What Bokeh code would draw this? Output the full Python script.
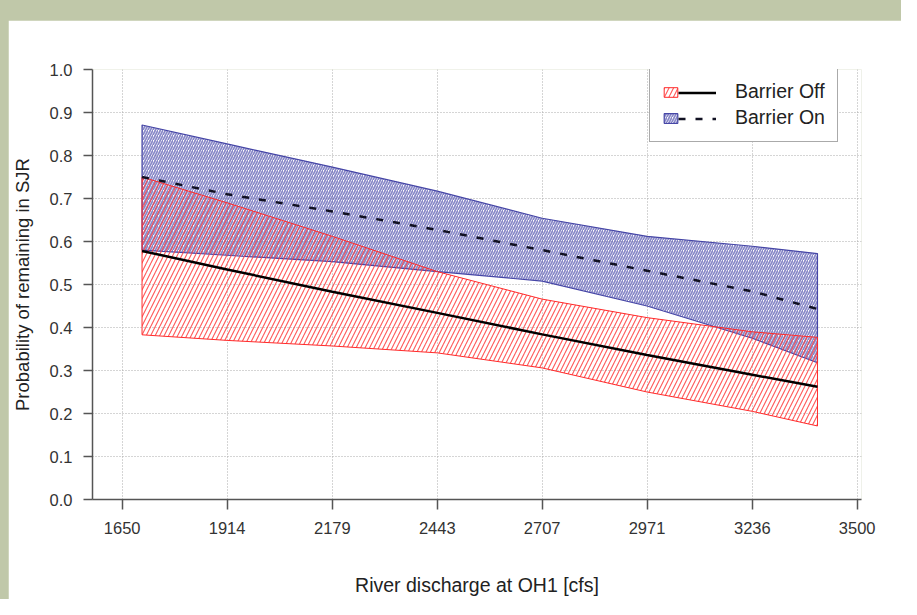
from bokeh.plotting import figure
from bokeh.models import Range1d, FixedTicker, Legend, LegendItem, Spacer, PrintfTickFormatter
from bokeh.layouts import column, row
from bokeh.embed import file_html
from bokeh.resources import INLINE

# ---- data ----
discharge = [1700, 1914, 2179, 2443, 2707, 2971, 3236, 3400]
off_mean = [0.578, 0.535, 0.483, 0.434, 0.384, 0.336, 0.290, 0.262]
off_lo = [0.383, 0.370, 0.357, 0.341, 0.306, 0.250, 0.205, 0.171]
off_hi = [0.750, 0.690, 0.612, 0.530, 0.466, 0.423, 0.390, 0.377]
on_mean = [0.750, 0.710, 0.670, 0.627, 0.580, 0.532, 0.484, 0.443]
on_lo = [0.580, 0.568, 0.553, 0.530, 0.508, 0.450, 0.375, 0.318]
on_hi = [0.871, 0.827, 0.773, 0.717, 0.654, 0.612, 0.589, 0.572]
x_ticks = [1650, 1914, 2179, 2443, 2707, 2971, 3236, 3500]
y_ticks = [0.0, 0.1, 0.2, 0.3, 0.4, 0.5, 0.6, 0.7, 0.8, 0.9, 1.0]
series_names = ["Barrier Off", "Barrier On"]

FONT = "Liberation Sans"

p = figure(width=893, height=579, output_backend="svg", toolbar_location=None,
           x_range=Range1d(1575.3, 3510.8), y_range=Range1d(0.0, 1.0),
           min_border_left=83, min_border_right=40, min_border_top=49, min_border_bottom=100,
           background_fill_color="white", border_fill_color="white",
           outline_line_color=None)

# grid
for g in (p.xgrid[0], p.ygrid[0]):
    g.grid_line_color = "#aaaaaa"
    g.grid_line_dash = "1 2"
    g.grid_line_width = 1

# axes
p.xaxis.ticker = FixedTicker(ticks=x_ticks)
p.yaxis.ticker = FixedTicker(ticks=y_ticks)
p.yaxis.formatter = PrintfTickFormatter(format="%.1f")
p.xaxis.axis_label = "River discharge at OH1 [cfs]"
p.yaxis.axis_label = "Probability of remaining in SJR"
for ax in (p.xaxis[0], p.yaxis[0]):
    ax.axis_line_color = "#555555"
    ax.axis_line_width = 1.5
    ax.major_tick_line_color = "#555555"
    ax.major_tick_line_width = 1.5
    ax.major_tick_in = 0
    ax.minor_tick_out = 0
    ax.minor_tick_in = 0
    ax.major_label_text_font = FONT
    ax.major_label_text_font_size = "16.5px"
    ax.major_label_text_color = "#333333"
    ax.axis_label_text_font = FONT
    ax.axis_label_text_font_style = "normal"
    ax.axis_label_text_color = "#222222"
p.xaxis.axis_label_text_font_size = "19.5px"
p.yaxis.axis_label_text_font_size = "18.5px"
p.xaxis.major_tick_out = 10
p.xaxis.major_label_standoff = 12
p.xaxis.axis_label_standoff = 37
p.yaxis.major_tick_out = 9
p.yaxis.major_label_standoff = 11
p.yaxis.axis_label_standoff = 14

# bands
poly_x = discharge + discharge[::-1]
r_on_band = p.patch(poly_x, on_hi + on_lo[::-1], fill_color=None,
                    line_color="#4646a6", line_width=1.2,
                    hatch_pattern="/", hatch_color="#6262b6", hatch_scale=5,
                    hatch_weight=1.7, hatch_alpha=0.75)
r_off_band = p.patch(poly_x, off_hi + off_lo[::-1], fill_color=None,
                     line_color="#ff2a2a", line_width=1,
                     hatch_pattern="/", hatch_color="#ff3b3b", hatch_scale=9,
                     hatch_weight=1.1, hatch_alpha=0.85)

# mean lines
r_off_line = p.line(discharge, off_mean, line_color="black", line_width=2.5)
r_on_line = p.line(discharge, on_mean, line_color="#111122", line_width=2.5,
                   line_dash="7 10")

# legends: patch icons + labels, then line icons laid over it
common = dict(padding=12, spacing=3, margin=0, label_height=23,
              label_text_font=FONT, label_text_font_size="19.5px")
leg_a = Legend(items=[LegendItem(label=series_names[0], renderers=[r_off_band]),
                      LegendItem(label=series_names[1], renderers=[r_on_band])],
               location=(557, 357), glyph_width=17, glyph_height=12,
               label_standoff=56, label_text_color="#222222",
               border_line_color="#555555", border_line_width=1.5,
               background_fill_color="white", background_fill_alpha=1, **common)
leg_b = Legend(items=[LegendItem(label=" ", renderers=[r_off_line]),
                      LegendItem(label=" ", renderers=[r_on_line])],
               location=(574, 357), glyph_width=38, glyph_height=23,
               label_standoff=0, border_line_alpha=0, background_fill_alpha=0,
               **common)
p.add_layout(leg_a)
p.add_layout(leg_b)

inner = column(Spacer(width=893, height=20), p)
page = row(Spacer(width=8, height=599), inner,
           styles={"background-color": "#c0c8a9"})

open("out.html", "w").write(file_html(page, INLINE))
